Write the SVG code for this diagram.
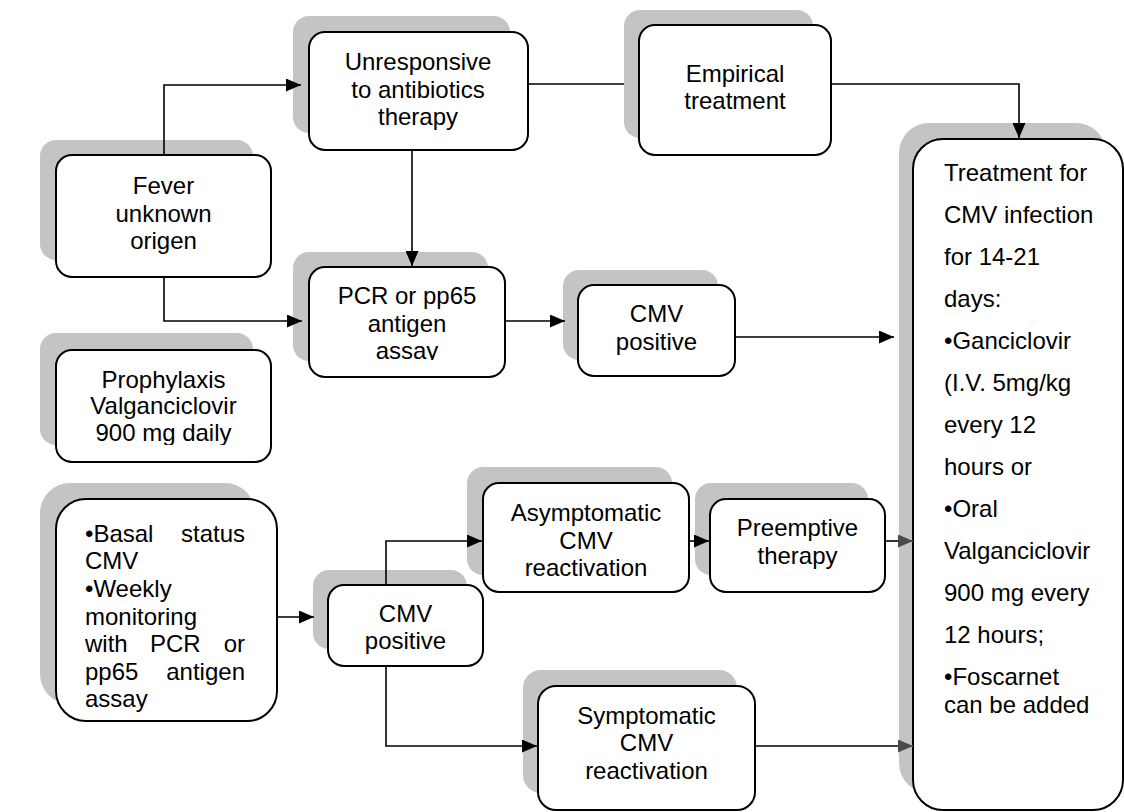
<svg xmlns="http://www.w3.org/2000/svg" width="1124" height="812" viewBox="0 0 1124 812">
<style>
.sh{fill:#c4c4c4;stroke:none}
.bx{fill:#fff;stroke:#000;stroke-width:2}
text{font-family:"Liberation Sans",Arial,Helvetica,sans-serif;font-size:24px;fill:#000}
.c{text-anchor:middle}
.e{text-anchor:end}
.ln{fill:none;stroke:#000;stroke-width:1.6}
.gl{fill:none;stroke:#555;stroke-width:1.6}
</style>
<defs>
<marker id="ah" markerWidth="15" markerHeight="13" refX="15" refY="6.5" orient="auto" markerUnits="userSpaceOnUse"><path d="M0,0 L15,6.5 L0,13 z" fill="#000"/></marker>
<marker id="ahg" markerWidth="15" markerHeight="13" refX="15" refY="6.5" orient="auto" markerUnits="userSpaceOnUse"><path d="M0,0 L15,6.5 L0,13 z" fill="#4a4a4a"/></marker>
<clipPath id="clipPCR"><rect x="300" y="260" width="220" height="100"/></clipPath>
<clipPath id="clipPro"><rect x="50" y="340" width="230" height="105"/></clipPath>
</defs>
<rect width="1124" height="812" fill="#fff"/>

<g id="fever">
<rect class="sh" x="40" y="140" width="213" height="120" rx="16"/>
<rect class="bx" x="56" y="155" width="215" height="122" rx="16"/>
<text class="c" x="163.5" y="194">Fever</text>
<text class="c" x="163.5" y="221.5">unknown</text>
<text class="c" x="163.5" y="249">origen</text>
</g>

<g id="unresponsive">
<rect class="sh" x="293" y="16" width="217" height="117" rx="16"/>
<rect class="bx" x="309" y="32" width="219" height="118" rx="16"/>
<text class="c" x="418" y="70">Unresponsive</text>
<text class="c" x="418" y="97.5">to antibiotics</text>
<text class="c" x="418" y="125">therapy</text>
</g>

<g id="empirical">
<rect class="sh" x="624" y="10" width="189" height="128" rx="16"/>
<rect class="bx" x="639" y="25" width="192" height="130" rx="16"/>
<text class="c" x="735" y="82">Empirical</text>
<text class="c" x="735" y="109">treatment</text>
</g>

<g id="pcr">
<rect class="sh" x="293" y="252" width="195" height="109" rx="16"/>
<rect class="bx" x="309" y="267" width="196" height="110" rx="16"/>
<g clip-path="url(#clipPCR)">
<text class="c" x="407" y="304">PCR or pp65</text>
<text class="c" x="407" y="331.5">antigen</text>
<text class="c" x="407" y="359">assay</text>
</g>
</g>

<g id="cmv-positive-1">
<rect class="sh" x="563" y="270" width="155" height="90" rx="16"/>
<rect class="bx" x="578" y="285" width="157" height="91" rx="16"/>
<text class="c" x="656.5" y="322">CMV</text>
<text class="c" x="656.5" y="349.5">positive</text>
</g>

<g id="prophylaxis">
<rect class="sh" x="40" y="333" width="213" height="112" rx="16"/>
<rect class="bx" x="56" y="350" width="215" height="112" rx="16"/>
<g clip-path="url(#clipPro)">
<text class="c" x="163.5" y="387.5">Prophylaxis</text>
<text class="c" x="163.5" y="414">Valganciclovir</text>
<text class="c" x="163.5" y="441">900 mg daily</text>
</g>
</g>

<g id="basal">
<rect class="sh" x="40" y="483" width="215" height="221" rx="30"/>
<rect class="bx" x="56" y="499" width="221" height="222" rx="30"/>
<text x="85" y="541.7">•Basal</text>
<text class="e" x="245" y="541.7">status</text>
<text x="85" y="569.3">CMV</text>
<text x="85" y="596.9">•Weekly</text>
<text x="85" y="624.5">monitoring</text>
<text x="85" y="652.1">with</text>
<text x="150" y="652.1">PCR</text>
<text class="e" x="245" y="652.1">or</text>
<text x="85" y="679.7">pp65</text>
<text class="e" x="245" y="679.7">antigen</text>
<text x="85" y="707.3">assay</text>
</g>

<g id="cmv-positive-2">
<rect class="sh" x="313" y="570" width="154" height="79" rx="16"/>
<rect class="bx" x="328" y="585" width="155" height="81" rx="16"/>
<text class="c" x="405.5" y="621.7">CMV</text>
<text class="c" x="405.5" y="649.3">positive</text>
</g>

<g id="asymptomatic">
<rect class="sh" x="467" y="467" width="205" height="108" rx="16"/>
<rect class="bx" x="483" y="483" width="206" height="109" rx="16"/>
<text class="c" x="586" y="521">Asymptomatic</text>
<text class="c" x="586" y="548.5">CMV</text>
<text class="c" x="586" y="576">reactivation</text>
</g>

<g id="preemptive">
<rect class="sh" x="695" y="483" width="173" height="92" rx="16"/>
<rect class="bx" x="710" y="499" width="175" height="93" rx="16"/>
<text class="c" x="797.5" y="536">Preemptive</text>
<text class="c" x="797.5" y="563.5">therapy</text>
</g>

<g id="symptomatic">
<rect class="sh" x="523" y="670" width="214" height="123" rx="18"/>
<rect class="bx" x="538" y="686" width="217" height="124" rx="18"/>
<text class="c" x="646.5" y="723.5">Symptomatic</text>
<text class="c" x="646.5" y="751">CMV</text>
<text class="c" x="646.5" y="778.5">reactivation</text>
</g>

<g id="treatment">
<rect class="sh" x="899" y="123" width="207" height="670" rx="30"/>
<rect class="bx" x="913" y="139" width="210" height="671" rx="30"/>
<text x="944" y="181">Treatment for</text>
<text x="944" y="223">CMV infection</text>
<text x="944" y="265">for 14-21</text>
<text x="944" y="307">days:</text>
<text x="944" y="349">•Ganciclovir</text>
<text x="944" y="391">(I.V. 5mg/kg</text>
<text x="944" y="433">every 12</text>
<text x="944" y="475">hours or</text>
<text x="944" y="517">•Oral</text>
<text x="944" y="559">Valganciclovir</text>
<text x="944" y="601">900 mg every</text>
<text x="944" y="643">12 hours;</text>
<text x="944" y="685">•Foscarnet</text>
<text x="944" y="713">can be added</text>
</g>

<g id="connectors">
<path class="ln" d="M164,155 V85 H301" marker-end="url(#ah)"/>
<path class="ln" d="M164,277 V321 H302" marker-end="url(#ah)"/>
<path class="ln" d="M412,150 V266" marker-end="url(#ah)"/>
<path class="ln" d="M528,84 H624"/>
<path class="ln" d="M831,84 H1019 V138" marker-end="url(#ah)"/>
<path class="ln" d="M505,321 H565" marker-end="url(#ah)"/>
<path class="ln" d="M735,337 H894" marker-end="url(#ah)"/>
<path class="ln" d="M277,617 H314" marker-end="url(#ah)"/>
<path class="ln" d="M386,585 V541 H482" marker-end="url(#ah)"/>
<path class="ln" d="M386,666 V746 H537" marker-end="url(#ah)"/>
<path class="ln" d="M689,541 H709" marker-end="url(#ah)"/>
<path class="ln" d="M885,541 H899"/>
<path class="gl" d="M899,541 H913" marker-end="url(#ahg)"/>
<path class="ln" d="M755,746 H899"/>
<path class="gl" d="M899,746 H913" marker-end="url(#ahg)"/>
</g>
</svg>
